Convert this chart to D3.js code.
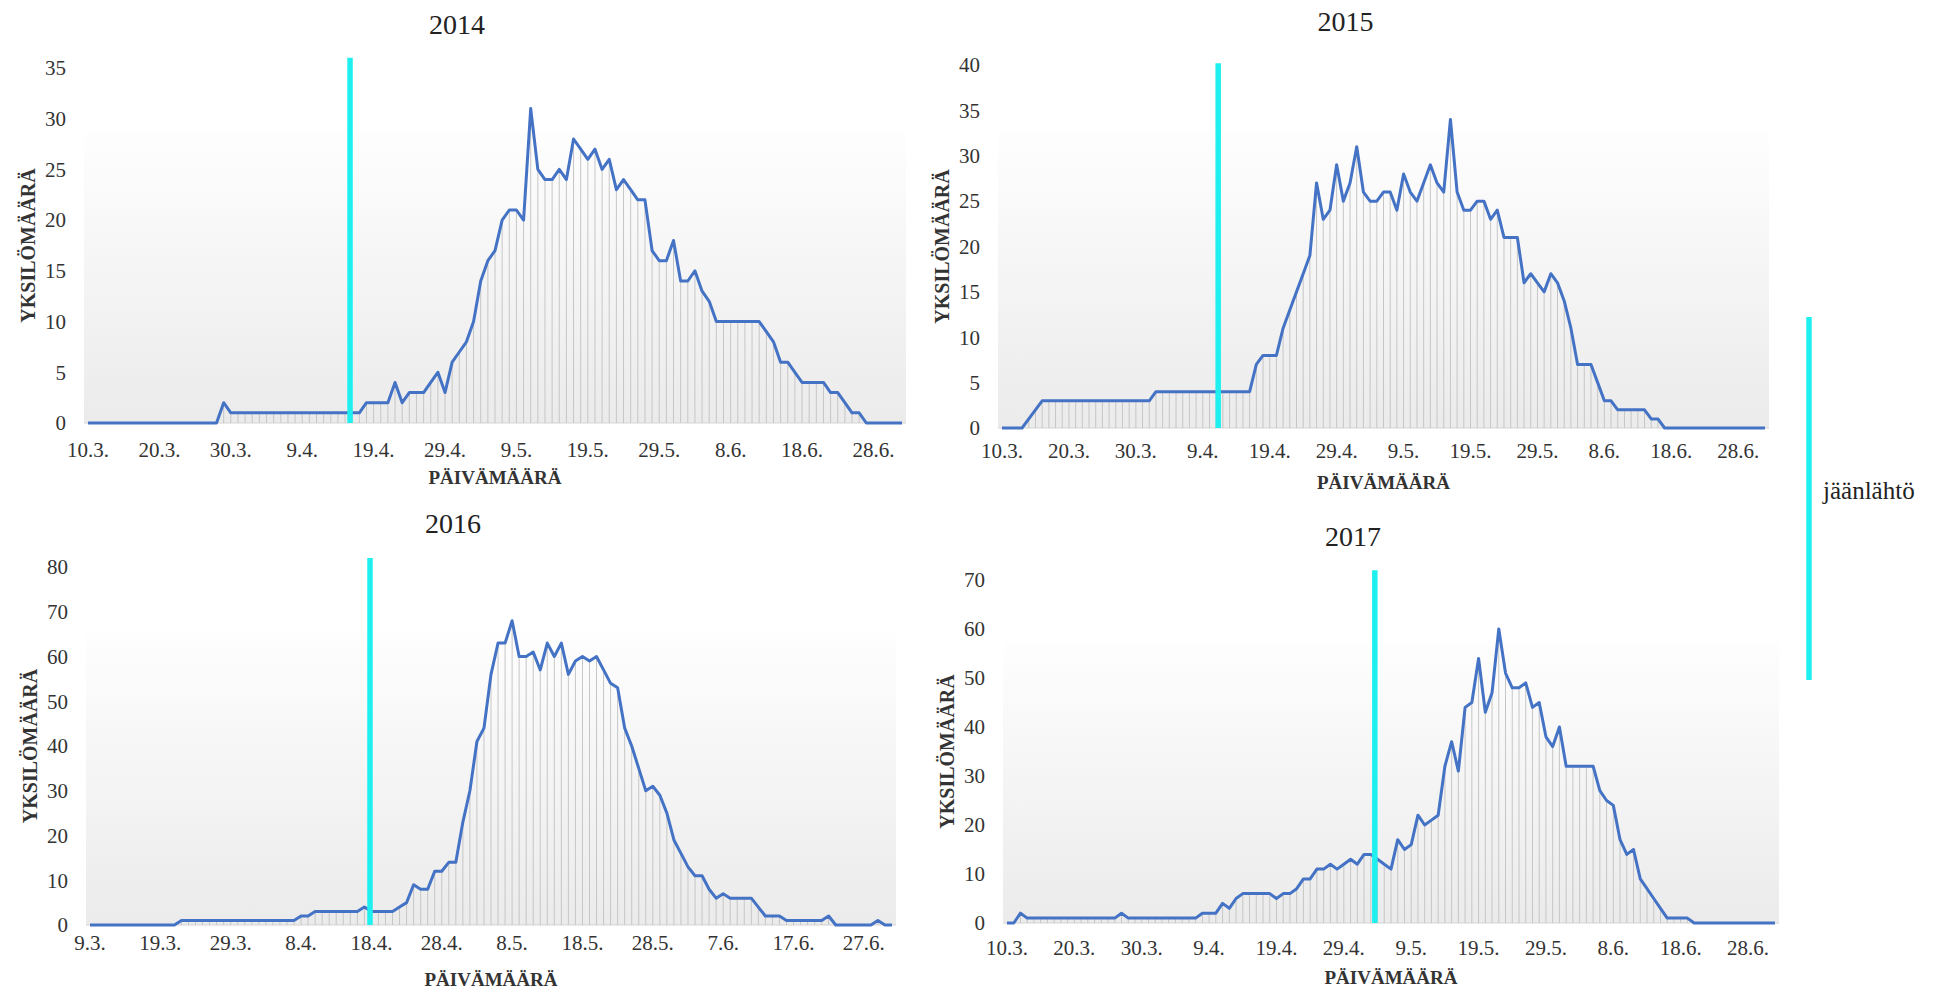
<!DOCTYPE html>
<html>
<head>
<meta charset="utf-8">
<script src="https://cdn.jsdelivr.net/npm/d3@7"></script>
<style>
  body { margin: 0; background: #fff; }
  svg { display: block; }
</style>
</head>
<body>
<div id="chart"></div>
<script>
var width = 1937, height = 992;

// Data (daily counts, one value per day from the first tick date)
var years = ["2014", "2015", "2016", "2017"];

var ticks2014 = ["10.3.", "20.3.", "30.3.", "9.4.", "19.4.", "29.4.", "9.5.", "19.5.", "29.5.", "8.6.", "18.6.", "28.6."];
var ticks2015 = ["10.3.", "20.3.", "30.3.", "9.4.", "19.4.", "29.4.", "9.5.", "19.5.", "29.5.", "8.6.", "18.6.", "28.6."];
var ticks2016 = ["9.3.", "19.3.", "29.3.", "8.4.", "18.4.", "28.4.", "8.5.", "18.5.", "28.5.", "7.6.", "17.6.", "27.6."];
var ticks2017 = ["10.3.", "20.3.", "30.3.", "9.4.", "19.4.", "29.4.", "9.5.", "19.5.", "29.5.", "8.6.", "18.6.", "28.6."];

var counts2014 = [0,0,0,0,0,0,0,0,0,0, 0,0,0,0,0,0,0,0,0,2,
  1,1,1,1,1,1,1,1,1,1, 1,1,1,1,1,1,1,1,1,2, 2,2,2,4,2,3,3,3,4,5,
  3,6,7,8,10,14,16,17,20,21, 21,20,31,25,24,24,25,24,28,27, 26,27,25,26,23,24,23,22,22,17,
  16,16,18,14,14,15,13,12,10,10, 10,10,10,10,10,9,8,6,6,5, 4,4,4,4,3,3,2,1,1,0,
  0,0,0,0,0];

var counts2015 = [0,0,0,0,1,2,3,3,3,3, 3,3,3,3,3,3,3,3,3,3, 3,3,3,4,4,4,4,4,4,4,
  4,4,4,4,4,4,4,4,7,8, 8,8,11,13,15,17,19,27,23,24, 29,25,27,31,26,25,25,26,26,24,
  28,26,25,27,29,27,26,34,26,24, 24,25,25,23,24,21,21,21,16,17, 16,15,17,16,14,11,7,7,7,5,
  3,3,2,2,2,2,2,1,1,0, 0,0,0,0,0,0,0,0,0,0, 0,0,0,0,0];

var counts2016 = [0,0,0,0,0,0,0,0,0,0, 0,0,0,1,1,1,1,1,1,1, 1,1,1,1,1,1,1,1,1,1,
  2,2,3,3,3,3,3,3,3,4, 3,3,3,3,4,5,9,8,8,12, 12,14,14,23,30,41,44,56,63,63,
  68,60,60,61,57,63,60,63,56,59, 60,59,60,57,54,53,44,40,35,30, 31,29,25,19,16,13,11,11,8,6,
  7,6,6,6,6,4,2,2,2,1, 1,1,1,1,1,2,0,0,0,0, 0,0,1,0,0];

var counts2017 = [0,0,2,1,1,1,1,1,1,1, 1,1,1,1,1,1,1,2,1,1, 1,1,1,1,1,1,1,1,1,2,
  2,2,4,3,5,6,6,6,6,6, 5,6,6,7,9,9,11,11,12,11, 12,13,12,14,14,13,12,11,17,15,
  16,22,20,21,22,32,37,31,44,45, 54,43,47,60,51,48,48,49,44,45, 38,36,40,32,32,32,32,32,27,25,
  24,17,14,15,9,7,5,3,1,1, 1,1,0,0,0,0,0,0,0,0, 0,0,0,0,0];

// ice-out (jäänlähtö) as a day position counted from the first date
var iceOut = [36.7, 32.3, 39.8, 54.6];
var iceTop = [36, 40.2, 82, 72];

var yMax = [35, 40, 80, 70];
var yStep = [5, 5, 10, 10];

var allCounts = [counts2014, counts2015, counts2016, counts2017];
var allTicks = [ticks2014, ticks2015, ticks2016, ticks2017];

// pixel layout of each small chart
var panels = [
  {left: 88,   right: 902,  bottom: 423, top: 68,  tickGap: 34},
  {left: 1002, right: 1765, bottom: 428, top: 65,  tickGap: 30},
  {left: 90,   right: 892,  bottom: 925, top: 567, tickGap: 25},
  {left: 1007, right: 1775, bottom: 923, top: 580, tickGap: 32}
];

var serif = "'Liberation Serif', 'Times New Roman', serif";
var blue = "#4472c4", cyan = "#1ef0f0";

var svg = d3.select("#chart").append("svg")
    .attr("width", width)
    .attr("height", height);

var grad = svg.append("defs").append("linearGradient")
    .attr("id", "plotGrad")
    .attr("x1", 0).attr("y1", 0).attr("x2", 0).attr("y2", 1);
grad.append("stop").attr("offset", "0%").attr("stop-color", "#fefefe");
grad.append("stop").attr("offset", "100%").attr("stop-color", "#ebebeb");

panels.forEach(function(p, k) {
  var counts = allCounts[k];
  var x = d3.scaleLinear().domain([0, counts.length - 1]).range([p.left, p.right]);
  var y = d3.scaleLinear().domain([0, yMax[k]]).range([p.bottom, p.top]);
  var g = svg.append("g");

  // plot area background
  var bgTop = y(yMax[k] * 0.82);
  g.append("rect")
      .attr("x", p.left - 4)
      .attr("y", bgTop)
      .attr("width", p.right - p.left + 8)
      .attr("height", p.bottom - bgTop)
      .attr("fill", "url(#plotGrad)");

  g.append("line")
      .attr("x1", p.left - 4).attr("x2", p.right + 4)
      .attr("y1", y(0)).attr("y2", y(0))
      .attr("stroke", "#d4d4d4");

  // drop lines
  g.append("g").selectAll("line")
      .data(counts.map(function(v, i) { return {i: i, v: v}; }).filter(function(d) { return d.v > 0; }))
      .enter().append("line")
        .attr("x1", function(d) { return x(d.i); })
        .attr("x2", function(d) { return x(d.i); })
        .attr("y1", function(d) { return y(d.v); })
        .attr("y2", y(0))
        .attr("stroke", "#c6c6c6")
        .attr("stroke-width", 1);

  var line = d3.line()
      .x(function(d, i) { return x(i); })
      .y(function(d) { return y(d); });

  g.append("path")
      .datum(counts)
      .attr("d", line)
      .attr("fill", "none")
      .attr("stroke", blue)
      .attr("stroke-width", 3)
      .attr("stroke-linejoin", "round");

  // ice-out marker
  g.append("line")
      .attr("x1", x(iceOut[k])).attr("x2", x(iceOut[k]))
      .attr("y1", y(iceTop[k])).attr("y2", y(0))
      .attr("stroke", cyan)
      .attr("stroke-width", 5.5);

  // y tick labels
  g.append("g").selectAll("text")
      .data(d3.range(0, yMax[k] + 1, yStep[k]))
      .enter().append("text")
        .attr("x", p.left - 22)
        .attr("y", function(d) { return y(d); })
        .attr("dy", "0.35em")
        .attr("text-anchor", "end")
        .attr("font-family", serif)
        .attr("font-size", 21)
        .attr("fill", "#333")
        .text(function(d) { return d; });

  // x tick labels, every 10th day
  g.append("g").selectAll("text")
      .data(allTicks[k])
      .enter().append("text")
        .attr("x", function(d, i) { return x(i * 10); })
        .attr("y", p.bottom + p.tickGap)
        .attr("text-anchor", "middle")
        .attr("font-family", serif)
        .attr("font-size", 21)
        .attr("fill", "#333")
        .text(function(d) { return d; });

  g.append("text")
      .attr("x", (p.left + p.right) / 2 - 38)
      .attr("y", p.top - 34)
      .attr("text-anchor", "middle")
      .attr("font-family", serif)
      .attr("font-size", 28)
      .attr("fill", "#222")
      .text(years[k]);

  g.append("text")
      .attr("x", (p.left + p.right) / 2)
      .attr("y", p.bottom + 61)
      .attr("text-anchor", "middle")
      .attr("font-family", serif)
      .attr("font-weight", "bold")
      .attr("font-size", 19)
      .attr("fill", "#333")
      .text("PÄIVÄMÄÄRÄ");

  g.append("text")
      .attr("transform", "translate(" + (p.left - 60) + "," + ((p.top + p.bottom) / 2) + ") rotate(-90)")
      .attr("text-anchor", "middle")
      .attr("dy", "0.35em")
      .attr("font-family", serif)
      .attr("font-weight", "bold")
      .attr("font-size", 20)
      .attr("fill", "#333")
      .text("YKSILÖMÄÄRÄ");
});

// legend
svg.append("line")
    .attr("x1", 1809).attr("x2", 1809)
    .attr("y1", 317).attr("y2", 680)
    .attr("stroke", cyan)
    .attr("stroke-width", 5.5);
svg.append("text")
    .attr("x", 1823)
    .attr("y", 499)
    .attr("font-family", serif)
    .attr("font-size", 25)
    .attr("fill", "#222")
    .text("jäänlähtö");
</script>
</body>
</html>
